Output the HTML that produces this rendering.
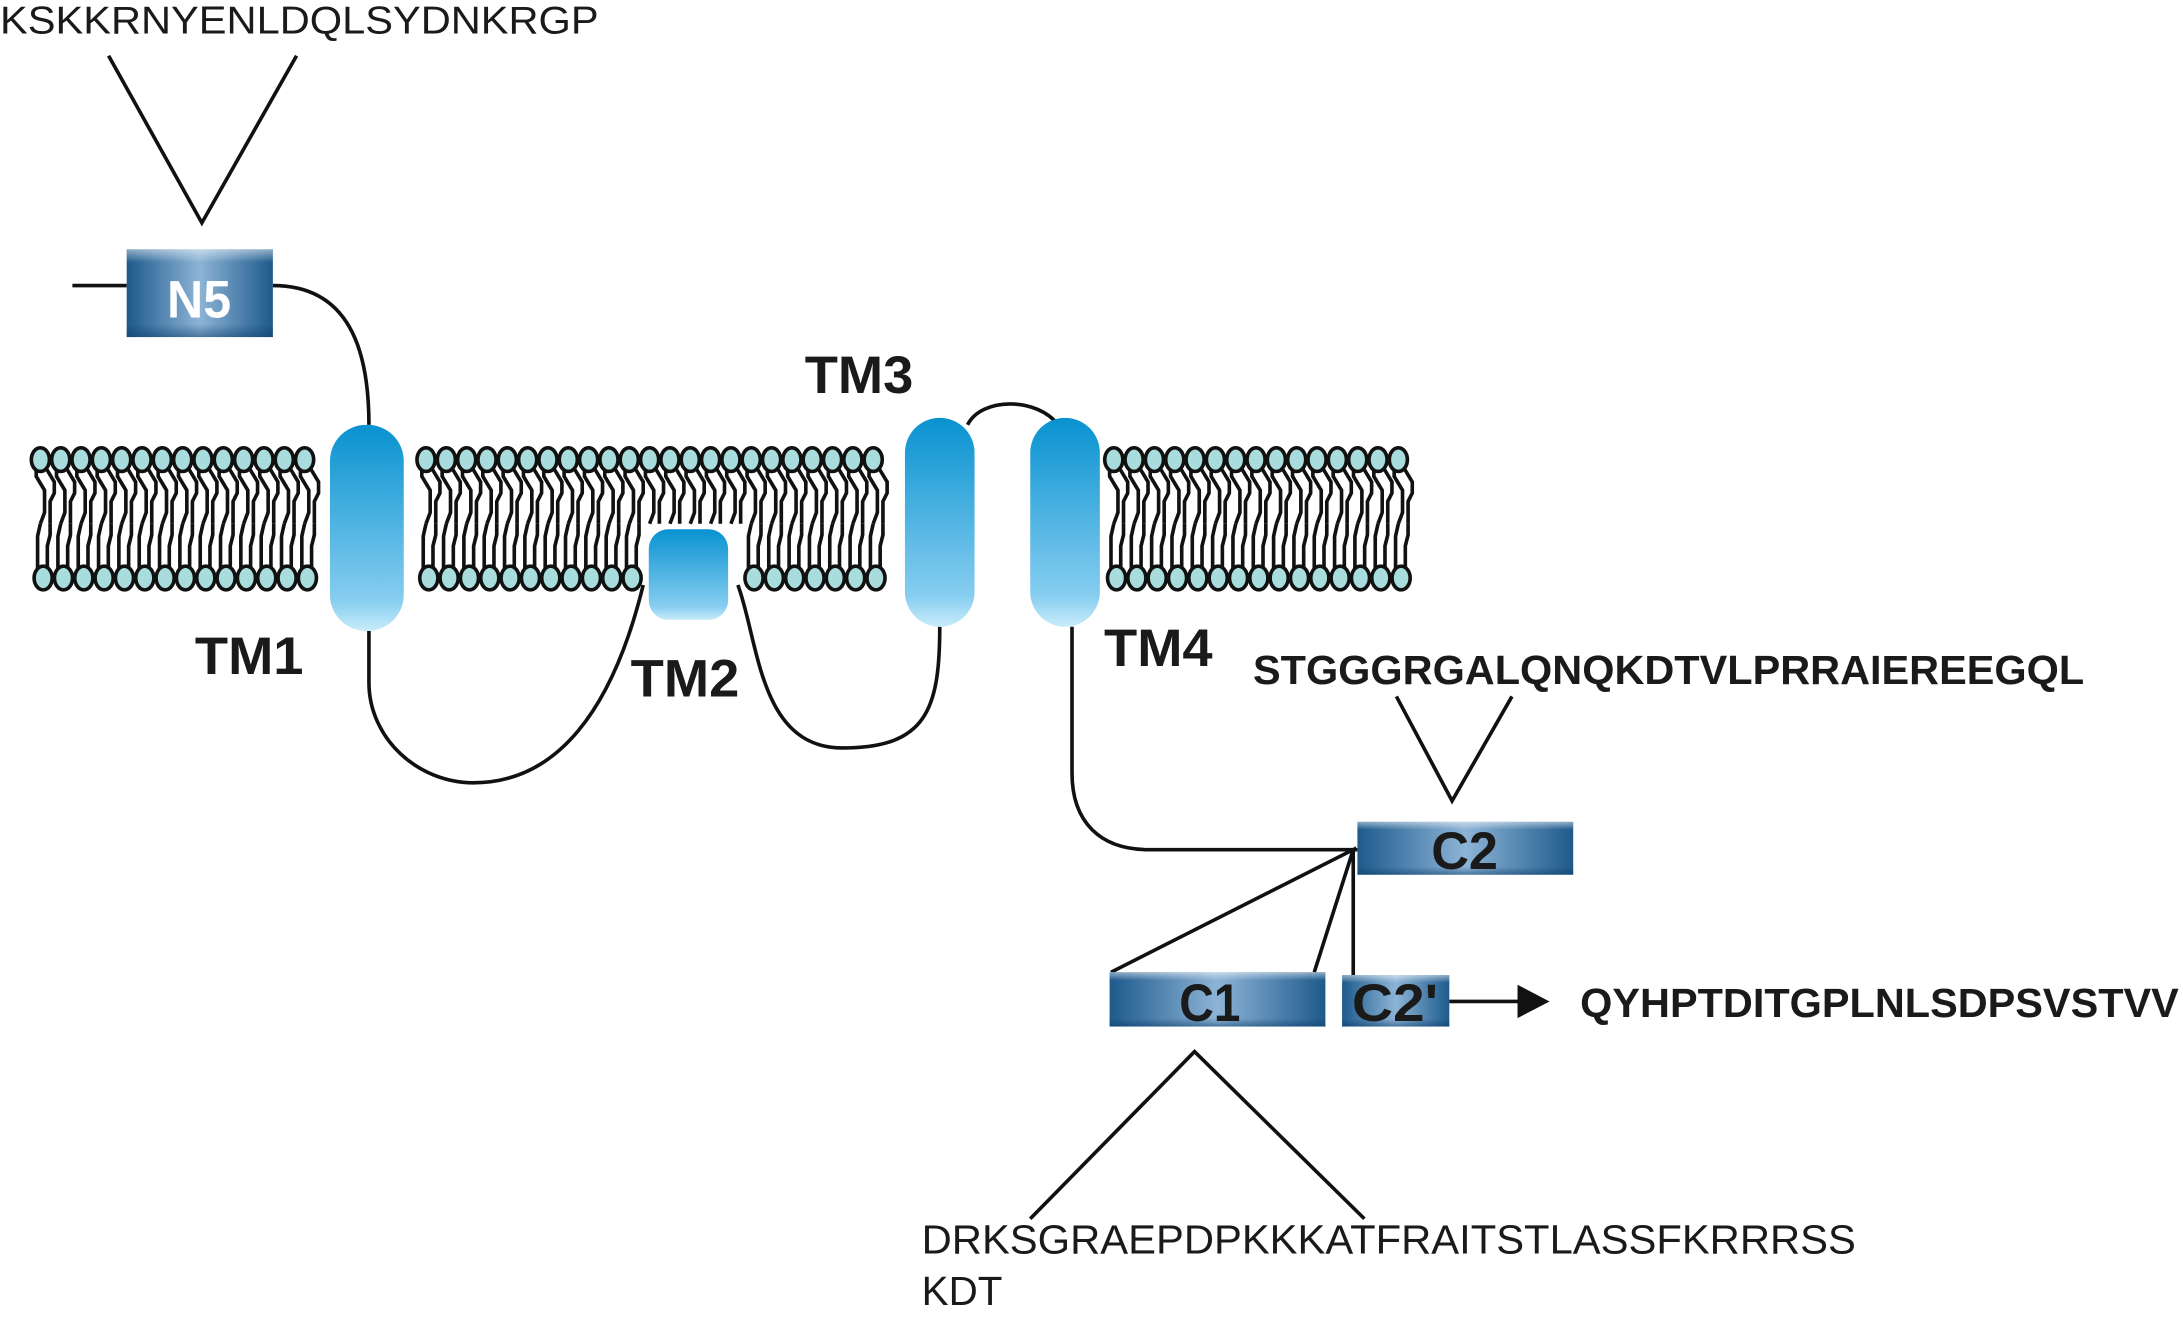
<!DOCTYPE html>
<html><head><meta charset="utf-8">
<style>html,body{margin:0;padding:0;background:#fff;}svg{display:block;}</style>
</head><body>
<svg width="2183" height="1326" viewBox="0 0 1568 952" preserveAspectRatio="none" xmlns="http://www.w3.org/2000/svg" xmlns:xlink="http://www.w3.org/1999/xlink">
<defs>
<linearGradient id="tm" x1="0" y1="0" x2="0" y2="1">
<stop offset="0" stop-color="#0892d0"/><stop offset="0.85" stop-color="#86cdf0"/><stop offset="1" stop-color="#c8ecfa"/></linearGradient>
<linearGradient id="bx" x1="0" y1="0" x2="1" y2="0">
<stop offset="0" stop-color="#1d5a8c"/><stop offset="0.5" stop-color="#8db4d6"/><stop offset="1" stop-color="#1d5a8c"/></linearGradient>
<linearGradient id="bxv" x1="0" y1="0" x2="0" y2="1">
<stop offset="0" stop-color="#ffffff" stop-opacity="0.5"/><stop offset="0.15" stop-color="#ffffff" stop-opacity="0"/><stop offset="0.85" stop-color="#0b3a66" stop-opacity="0"/><stop offset="1" stop-color="#0b3a66" stop-opacity="0.5"/></linearGradient>
<g id="T" stroke="#111" stroke-width="2.6" fill="none">
<path d="M-3,336 L-3,342 L3,352 L3,368 L0,376"/>
<path d="M4,336 L10,346 L10,354 L7,360 L7,376"/>
<ellipse cx="0" cy="330" rx="6.5" ry="8.5" fill="#a9dcdc"/>
</g>
<g id="L">
<use href="#T" xlink:href="#T"/>
<g stroke="#111" stroke-width="2.6" fill="none">
<path d="M-2,409 L-2,385 L0,376"/>
<path d="M5,409 L5,392 L7,384 L7,376"/>
<ellipse cx="2" cy="415" rx="6.5" ry="8.5" fill="#a9dcdc"/>
</g>
</g>
</defs>
<g>
<use href="#L" xlink:href="#L" x="29"/><use href="#L" xlink:href="#L" x="43.6"/><use href="#L" xlink:href="#L" x="58.2"/><use href="#L" xlink:href="#L" x="72.8"/><use href="#L" xlink:href="#L" x="87.4"/><use href="#L" xlink:href="#L" x="102"/><use href="#L" xlink:href="#L" x="116.6"/><use href="#L" xlink:href="#L" x="131.2"/><use href="#L" xlink:href="#L" x="145.8"/><use href="#L" xlink:href="#L" x="160.4"/><use href="#L" xlink:href="#L" x="175"/><use href="#L" xlink:href="#L" x="189.6"/><use href="#L" xlink:href="#L" x="204.2"/><use href="#L" xlink:href="#L" x="218.8"/>
<use href="#L" xlink:href="#L" x="306"/><use href="#L" xlink:href="#L" x="320.6"/><use href="#L" xlink:href="#L" x="335.2"/><use href="#L" xlink:href="#L" x="349.8"/><use href="#L" xlink:href="#L" x="364.4"/><use href="#L" xlink:href="#L" x="379"/><use href="#L" xlink:href="#L" x="393.6"/><use href="#L" xlink:href="#L" x="408.2"/><use href="#L" xlink:href="#L" x="422.8"/><use href="#L" xlink:href="#L" x="437.4"/><use href="#L" xlink:href="#L" x="452"/>
<use href="#T" xlink:href="#T" x="466.6"/><use href="#T" xlink:href="#T" x="481.2"/><use href="#T" xlink:href="#T" x="495.8"/><use href="#T" xlink:href="#T" x="510.4"/><use href="#T" xlink:href="#T" x="525"/>
<use href="#L" xlink:href="#L" x="539.6"/><use href="#L" xlink:href="#L" x="554.2"/><use href="#L" xlink:href="#L" x="568.8"/><use href="#L" xlink:href="#L" x="583.4"/><use href="#L" xlink:href="#L" x="598"/><use href="#L" xlink:href="#L" x="612.6"/><use href="#L" xlink:href="#L" x="627.2"/>
<use href="#L" xlink:href="#L" x="800"/><use href="#L" xlink:href="#L" x="814.6"/><use href="#L" xlink:href="#L" x="829.2"/><use href="#L" xlink:href="#L" x="843.8"/><use href="#L" xlink:href="#L" x="858.4"/><use href="#L" xlink:href="#L" x="873"/><use href="#L" xlink:href="#L" x="887.6"/><use href="#L" xlink:href="#L" x="902.2"/><use href="#L" xlink:href="#L" x="916.8"/><use href="#L" xlink:href="#L" x="931.4"/><use href="#L" xlink:href="#L" x="946"/><use href="#L" xlink:href="#L" x="960.6"/><use href="#L" xlink:href="#L" x="975.2"/><use href="#L" xlink:href="#L" x="989.8"/><use href="#L" xlink:href="#L" x="1004.4"/>
</g>
<g fill="none" stroke="#111" stroke-width="2.6">
<path d="M78,40 L145,160 L213,40"/>
<path d="M52,205 L91,205"/>
<path d="M196,205 C250,205 265,250 265,305"/>
<path d="M265,453 L265,490 C265,530 300,562 340,562 C400,562 440,510 462,420"/>
<path d="M530,420 C545,460 545,537 605,537 C665,537 675,510 675,450"/>
<path d="M695,305 C705,285 745,285 760,305"/>
<path d="M770,450 L770,555 C770,590 790,610 825,610 L975,610"/>
<path d="M1003,500 L1043,575 L1086,500"/>
<path d="M798,698 L972,610 L944,698 M972,610 L972,702"/>
<path d="M1041,719 L1095,719"/>
<path d="M740,875 L858,755 L980,875"/>
</g>
<polygon points="1090,707 1113,719 1090,731" fill="#111"/>
<rect x="237" y="305" width="53" height="148" rx="26" fill="url(#tm)"/>
<rect x="466" y="380" width="57" height="65" rx="14" fill="url(#tm)"/>
<rect x="650" y="300" width="50" height="150" rx="25" fill="url(#tm)"/>
<rect x="740" y="300" width="50" height="150" rx="25" fill="url(#tm)"/>
<g>
<rect x="91" y="179" width="105" height="63" fill="url(#bx)"/><rect x="91" y="179" width="105" height="63" fill="url(#bxv)"/>
<rect x="975" y="590" width="155" height="38" fill="url(#bx)"/><rect x="975" y="590" width="155" height="38" fill="url(#bxv)"/>
<rect x="797" y="698" width="155" height="39" fill="url(#bx)"/><rect x="797" y="698" width="155" height="39" fill="url(#bxv)"/>
<rect x="964" y="700" width="77" height="37" fill="url(#bx)"/><rect x="964" y="700" width="77" height="37" fill="url(#bxv)"/>
</g>
<g font-family="Liberation Sans, sans-serif" fill="#1a1a1a">
<text x="0" y="24" font-size="28" textLength="430" lengthAdjust="spacingAndGlyphs">KSKKRNYENLDQLSYDNKRGP</text>
<text x="143" y="228" font-size="38" font-weight="bold" fill="#fff" text-anchor="middle" textLength="46" lengthAdjust="spacingAndGlyphs">N5</text>
<text x="1052" y="624" font-size="38" font-weight="bold" text-anchor="middle" textLength="48" lengthAdjust="spacingAndGlyphs">C2</text>
<text x="869" y="733" font-size="38" font-weight="bold" text-anchor="middle" textLength="44" lengthAdjust="spacingAndGlyphs">C1</text>
<text x="1002" y="733" font-size="38" font-weight="bold" text-anchor="middle" textLength="62" lengthAdjust="spacingAndGlyphs">C2'</text>
<text x="140" y="484" font-size="38" font-weight="bold" textLength="78" lengthAdjust="spacingAndGlyphs">TM1</text>
<text x="453" y="500" font-size="38" font-weight="bold" textLength="78" lengthAdjust="spacingAndGlyphs">TM2</text>
<text x="578" y="282" font-size="38" font-weight="bold" textLength="78" lengthAdjust="spacingAndGlyphs">TM3</text>
<text x="793" y="478" font-size="38" font-weight="bold" textLength="78" lengthAdjust="spacingAndGlyphs">TM4</text>
<text x="900" y="491" font-size="29" font-weight="bold" textLength="597" lengthAdjust="spacingAndGlyphs">STGGGRGALQNQKDTVLPRRAIEREEGQL</text>
<text x="1135" y="730" font-size="29" font-weight="bold" textLength="430" lengthAdjust="spacingAndGlyphs">QYHPTDITGPLNLSDPSVSTVV</text>
<text x="662" y="900" font-size="29" textLength="671" lengthAdjust="spacingAndGlyphs">DRKSGRAEPDPKKKATFRAITSTLASSFKRRRSS</text>
<text x="662" y="937" font-size="29" textLength="58" lengthAdjust="spacingAndGlyphs">KDT</text>
</g>
</svg>
</body></html>
